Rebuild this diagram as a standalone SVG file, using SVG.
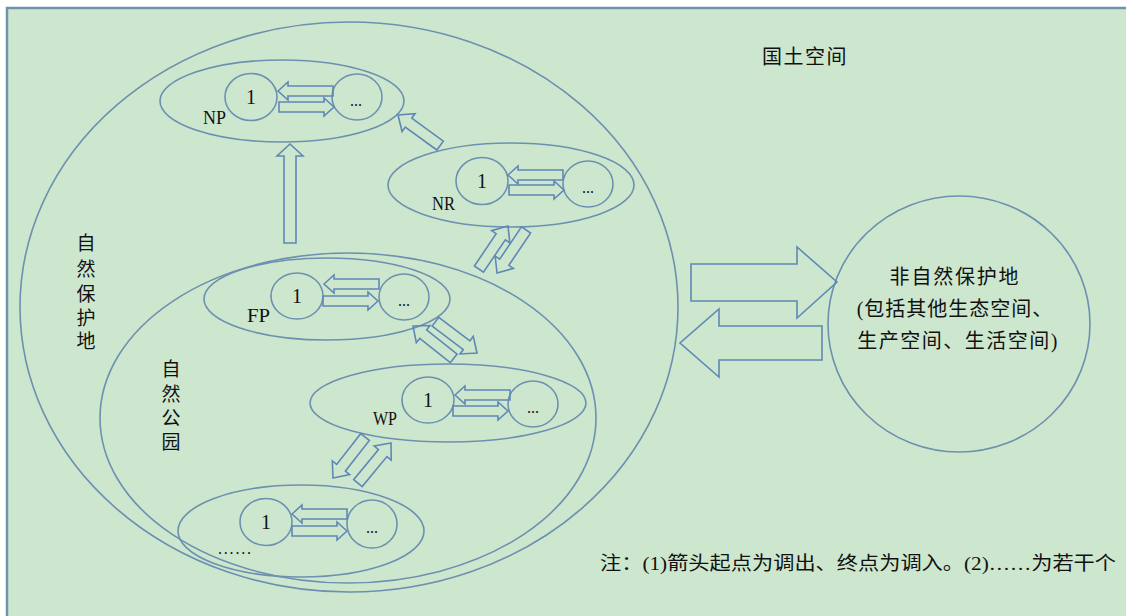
<svg xmlns="http://www.w3.org/2000/svg" width="1126" height="616" viewBox="0 0 1126 616">
<style>
.bg{fill:#cde7cf;stroke:#6f93ae;stroke-width:2.5}
.el{fill:none;stroke:#6d90b0;stroke-width:1.6}
.ar{fill:none;stroke:#5f88b4;stroke-width:1.6;stroke-linejoin:miter}
.lat{font-family:"Liberation Serif",serif;fill:#111}
.cjk{font-family:"Liberation Serif","Noto Sans CJK SC",sans-serif;fill:#111}
.num{font-size:20px;text-anchor:middle}
.dots{font-size:16px;text-anchor:middle}
.lbl{font-size:18px}
.vt{font-size:19px;text-anchor:middle}
</style>
<defs>
<path id="la" d="M0,0 L10,-9 L10,-5 L55,-5 L55,5 L10,5 L10,9 Z"/>
<path id="ra" d="M0,0 L-10,-9 L-10,-5 L-55,-5 L-55,5 L-10,5 L-10,9 Z"/>
<path id="ma" d="M0,0 L-13,-11 L-13,-5.5 L-52,-5.5 L-52,5.5 L-13,5.5 L-13,11 Z"/>
</defs>
<rect id="land-space" class="bg" x="7" y="8" width="1130" height="620"/>
<text class="cjk" x="805" y="64" font-size="20" text-anchor="middle" letter-spacing="1.5">国土空间</text>

<g id="protected-areas">
<ellipse class="el" cx="349" cy="307" rx="329" ry="285"/>
<text class="cjk vt" x="86" y="250">自</text>
<text class="cjk vt" x="86" y="276">然</text>
<text class="cjk vt" x="86" y="301">保</text>
<text class="cjk vt" x="86" y="325">护</text>
<text class="cjk vt" x="86" y="348">地</text>
</g>

<g id="natural-parks">
<ellipse class="el" cx="348" cy="418" rx="248" ry="165"/>
<text class="cjk vt" x="171" y="376">自</text>
<text class="cjk vt" x="171" y="401">然</text>
<text class="cjk vt" x="171" y="425">公</text>
<text class="cjk vt" x="171" y="449">园</text>
</g>

<g id="np">
<ellipse class="el" cx="282" cy="101" rx="122" ry="41"/>
<ellipse class="el" cx="251" cy="97" rx="26" ry="23.5"/>
<ellipse class="el" cx="357" cy="97" rx="25" ry="23"/>
<use href="#la" class="ar" x="278" y="91"/>
<use href="#ra" class="ar" x="334" y="107"/>
<text class="lat num" x="251" y="104">1</text>
<text class="lat dots" x="356" y="106">...</text>
<text class="lat lbl" x="203" y="124" textLength="23" lengthAdjust="spacingAndGlyphs">NP</text>
</g>

<g id="nr">
<ellipse class="el" cx="511" cy="185" rx="123" ry="42"/>
<ellipse class="el" cx="482" cy="181" rx="26" ry="23.5"/>
<ellipse class="el" cx="588" cy="184" rx="25" ry="23"/>
<use href="#la" class="ar" x="508" y="175"/>
<use href="#ra" class="ar" x="564" y="190"/>
<text class="lat num" x="482" y="188">1</text>
<text class="lat dots" x="588" y="193">...</text>
<text class="lat lbl" x="432" y="210" textLength="23" lengthAdjust="spacingAndGlyphs">NR</text>
</g>

<g id="fp">
<ellipse class="el" cx="327" cy="299" rx="123" ry="41"/>
<ellipse class="el" cx="297" cy="296" rx="26" ry="23"/>
<ellipse class="el" cx="404" cy="297" rx="25" ry="23"/>
<use href="#la" class="ar" x="324" y="284"/>
<use href="#ra" class="ar" x="378" y="301"/>
<text class="lat num" x="297" y="303">1</text>
<text class="lat dots" x="404" y="306">...</text>
<text class="lat lbl" x="247" y="322" textLength="23" lengthAdjust="spacingAndGlyphs">FP</text>
</g>

<g id="wp">
<ellipse class="el" cx="448" cy="403" rx="138" ry="39"/>
<ellipse class="el" cx="428" cy="400" rx="26" ry="23"/>
<ellipse class="el" cx="533" cy="404" rx="25" ry="23"/>
<use href="#la" class="ar" x="455" y="395"/>
<use href="#ra" class="ar" x="508" y="411"/>
<text class="lat num" x="428" y="407">1</text>
<text class="lat dots" x="533" y="413">...</text>
<text class="lat lbl" x="373" y="425" textLength="24" lengthAdjust="spacingAndGlyphs">WP</text>
</g>

<g id="others">
<ellipse class="el" cx="301" cy="531" rx="123" ry="46"/>
<ellipse class="el" cx="266" cy="522" rx="26" ry="23.5"/>
<ellipse class="el" cx="372" cy="524" rx="25" ry="24"/>
<use href="#la" class="ar" x="292" y="514"/>
<use href="#ra" class="ar" x="347" y="531"/>
<text class="lat num" x="266" y="529">1</text>
<text class="lat dots" x="372" y="533">...</text>
<text class="lat" x="218" y="554" font-size="16" textLength="33" lengthAdjust="spacing">......</text>
</g>

<g id="non-protected">
<ellipse class="el" cx="959" cy="324" rx="131" ry="128"/>
<text class="cjk" x="955" y="284" font-size="20" text-anchor="middle" letter-spacing="1.8">非自然保护地</text>
<text class="cjk" x="955" y="316" font-size="20" text-anchor="middle" letter-spacing="1">(包括其他生态空间、</text>
<text class="cjk" x="958" y="348" font-size="20" text-anchor="middle" letter-spacing="1.5">生产空间、生活空间)</text>
</g>

<g id="connectors">
<path class="ar" d="M0,0 L-12,-13 L-12,-6 L-99,-6 L-99,6 L-12,6 L-12,13 Z" transform="translate(290,144) rotate(-90)"/>
<use href="#ma" class="ar" transform="translate(398,115) rotate(-144)"/>
<use href="#ma" class="ar" transform="translate(508,226) rotate(-56)"/>
<use href="#ma" class="ar" transform="translate(497,273) rotate(124)"/>
<use href="#ma" class="ar" transform="translate(413,326) rotate(-141.5)"/>
<use href="#ma" class="ar" transform="translate(477,353) rotate(37)"/>
<use href="#ma" class="ar" transform="translate(333,478) rotate(128)"/>
<use href="#ma" class="ar" transform="translate(391,443) rotate(-50.5)"/>
<path class="ar" d="M691,264 L797,264 L797,247 L837,282 L797,318 L797,301 L691,301 Z"/>
<path class="ar" d="M822,326 L719,326 L719,309 L680,343 L719,377 L719,360 L822,360 Z"/>
</g>

<text id="note" class="cjk" x="600" y="570" font-size="19" textLength="516" lengthAdjust="spacingAndGlyphs">注：(1)箭头起点为调出、终点为调入。(2)……为若干个</text>
</svg>
